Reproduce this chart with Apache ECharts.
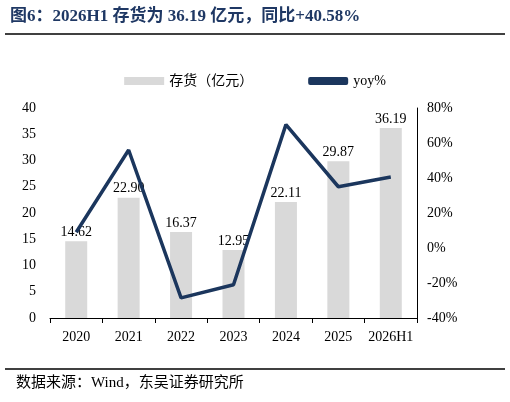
<!DOCTYPE html>
<html>
<head>
<meta charset="utf-8">
<script src="https://cdn.jsdelivr.net/npm/echarts@6/dist/echarts.min.js"></script>
<style>html,body{margin:0;padding:0;background:#fff}#main{width:510px;height:402px}</style>
</head>
<body>
<div id="main"></div>
<script>
var years = ['2020', '2021', '2022', '2023', '2024', '2025', '2026H1'];
var inventory = [14.62, 22.90, 16.37, 12.95, 22.11, 29.87, 36.19];
var yoy = [9, 56, -28.5, -21, 70.5, 35, 40.58];

var font = '"Liberation Serif", "Noto Sans CJK SC", serif';
var chart = echarts.init(document.getElementById('main'));
chart.setOption({
    animation: false,
    textStyle: {fontFamily: font, color: '#000'},
    title: {
        text: '图6：2026H1 存货为 36.19 亿元，同比+40.58%',
        left: 5, top: 3,
        textStyle: {fontFamily: font, fontSize: 17, fontWeight: 'bold', color: '#1f3864'}
    },
    graphic: [
        {type: 'line', shape: {x1: 5, y1: 34, x2: 505, y2: 34}, style: {stroke: '#000', lineWidth: 1.5}},
        {type: 'line', shape: {x1: 5, y1: 369, x2: 505, y2: 369}, style: {stroke: '#000', lineWidth: 1.5}},
        {type: 'text', left: 16, top: 376, style: {text: '数据来源：Wind，东吴证券研究所', font: '15px ' + font, fill: '#000'}}
    ],
    legend: {
        top: 69, left: 'center', itemGap: 55, itemWidth: 40, itemHeight: 8,
        textStyle: {fontFamily: font, fontSize: 14, color: '#000'},
        data: [{name: '存货（亿元）', icon: 'rect'}, {name: 'yoy%', icon: 'roundRect', itemStyle: {color: '#1b365d'}}]
    },
    grid: {left: 50, right: 93, top: 108, bottom: 84},
    xAxis: {
        type: 'category', data: years,
        axisLine: {lineStyle: {color: '#000'}},
        axisTick: {show: true, lineStyle: {color: '#000'}},
        axisLabel: {color: '#000', fontSize: 14, margin: 12, interval: 0, fontFamily: font}
    },
    yAxis: [
        {type: 'value', min: 0, max: 40, interval: 5, splitLine: {show: false},
         axisLine: {show: false}, axisLabel: {color: '#000', fontSize: 14, margin: 14, fontFamily: font}},
        {type: 'value', min: -40, max: 80, interval: 20, splitLine: {show: false},
         axisLine: {show: true, lineStyle: {color: '#000'}}, axisTick: {show: false},
         axisLabel: {color: '#000', fontSize: 14, margin: 10, fontFamily: font, formatter: '{value}%'}}
    ],
    series: [
        {name: '存货（亿元）', type: 'bar', data: inventory, barWidth: 22,
         itemStyle: {color: '#d9d9d9'},
         label: {show: true, position: 'top', distance: 2, color: '#000', fontSize: 14, fontFamily: font,
                 formatter: function (p) { return p.value.toFixed(2); }}},
        {name: 'yoy%', type: 'line', yAxisIndex: 1, data: yoy, symbol: 'none',
         lineStyle: {color: '#1b365d', width: 3.5}, itemStyle: {color: '#1b365d'}}
    ]
});
</script>
</body>
</html>
